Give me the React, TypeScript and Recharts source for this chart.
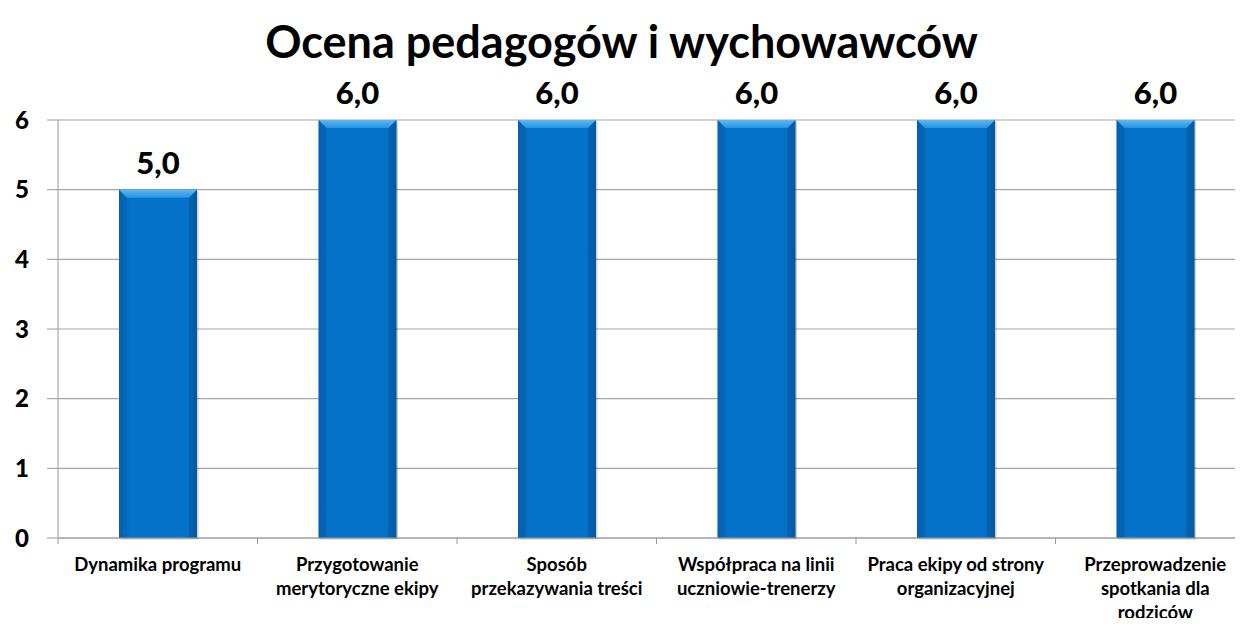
import { BarChart, Bar, XAxis, YAxis, CartesianGrid, LabelList } from 'recharts';

const categories = [
  'Dynamika programu',
  'Przygotowanie merytoryczne ekipy',
  'Sposób przekazywania treści',
  'Współpraca na linii uczniowie-trenerzy',
  'Praca ekipy od strony organizacyjnej',
  'Przeprowadzenie spotkania dla rodziców',
];
const categoryLines = [
  ['Dynamika programu'],
  ['Przygotowanie', 'merytoryczne ekipy'],
  ['Sposób', 'przekazywania treści'],
  ['Współpraca na linii', 'uczniowie-trenerzy'],
  ['Praca ekipy od strony', 'organizacyjnej'],
  ['Przeprowadzenie', 'spotkania dla', 'rodziców'],
];
const scores = [5.0, 6.0, 6.0, 6.0, 6.0, 6.0];
const yTicks = [0, 1, 2, 3, 4, 5, 6];

const data = categories.map((c, i) => ({ name: c, value: scores[i] }));

const FONT = 'Lato, "Open Sans", sans-serif';
const BAND = (1270 - 58 - 15) / categories.length;

const XTick = (props: any) => {
  const { x, y, payload, index } = props;
  const lines = categoryLines[payload.index ?? index] || [payload.value];
  const last = (payload.index ?? index) === categories.length - 1;
  return (
    <g>
      <line x1={x - BAND / 2} y1={y - 8} x2={x - BAND / 2} y2={y - 2} stroke="#9a9a9a" />
      {last && <line x1={x + BAND / 2} y1={y - 8} x2={x + BAND / 2} y2={y - 2} stroke="#9a9a9a" />}
      <text x={x} y={y + 25} textAnchor="middle" fontFamily={FONT} fontWeight={700} fontSize={18.5} fill="#000">
        {lines.map((l, i) => (
          <tspan key={i} x={x} dy={i === 0 ? 0 : 24}>
            {l}
          </tspan>
        ))}
      </text>
    </g>
  );
};

const BevelBar = (props: any) => {
  const { x, y, width, height } = props;
  if (!height) return null;
  const b = 8;
  return (
    <g>
      <rect x={x + 1.5} y={y + 1.5} width={width} height={height} fill="rgba(0,0,0,0.18)" />
      <rect x={x} y={y} width={width} height={height} fill="url(#barGrad)" />
      <polygon points={`${x},${y} ${x + width},${y} ${x + width - b},${y + b} ${x + b},${y + b}`} fill="url(#topGrad)" />
      <polygon points={`${x},${y} ${x + b},${y + b} ${x + b},${y + height} ${x},${y + height}`} fill="rgba(0,40,100,0.12)" />
      <polygon points={`${x + width},${y} ${x + width - b},${y + b} ${x + width - b},${y + height} ${x + width},${y + height}`} fill="rgba(0,40,100,0.18)" />
    </g>
  );
};

export default function App() {
  return (
    <div style={{ margin: -8, width: 1243, height: 626, overflow: 'hidden', background: '#fff', position: 'relative' }}>
      <div
        style={{
          position: 'absolute',
          top: 14,
          width: 1243,
          textAlign: 'center',
          fontFamily: FONT,
          fontWeight: 700,
          fontSize: 45,
          color: '#000',
        }}
      >
        Ocena pedagogów i wychowawców
      </div>
      <BarChart width={1270} height={626} data={data} margin={{ top: 120, right: 15, left: 0, bottom: 0 }}>
        <defs>
          <linearGradient id="barGrad" x1="0" y1="0" x2="1" y2="0">
            <stop offset="0%" stopColor="#0668b8" />
            <stop offset="15%" stopColor="#0573c9" />
            <stop offset="85%" stopColor="#0573c9" />
            <stop offset="100%" stopColor="#0565b2" />
          </linearGradient>
          <linearGradient id="topGrad" x1="0" y1="0" x2="0" y2="1">
            <stop offset="0%" stopColor="#5cb8f5" />
            <stop offset="100%" stopColor="#2893e0" />
          </linearGradient>
        </defs>
        <CartesianGrid vertical={false} stroke="#a6a6a6" strokeWidth={1.2} />
        <XAxis
          dataKey="name"
          height={88}
          tickLine={false}
          axisLine={{ stroke: '#9a9a9a', strokeWidth: 1.2 }}
          tick={<XTick />}
          interval={0}
        />
        <YAxis
          width={58}
          domain={[0, 6]}
          ticks={yTicks}
          tickSize={11}
          tickMargin={18}
          tickLine={{ stroke: '#9a9a9a' }}
          axisLine={{ stroke: '#9a9a9a' }}
          tick={{ fill: '#000', fontFamily: FONT, fontWeight: 900, fontSize: 24 }}
        />
        <Bar dataKey="value" barSize={78} shape={<BevelBar />} isAnimationActive={false}>
          <LabelList
            dataKey="value"
            position="top"
            offset={16}
            formatter={(v: any) => Number(v).toFixed(1).replace('.', ',')}
            style={{ fill: '#000', fontFamily: FONT, fontWeight: 900, fontSize: 31 }}
          />
        </Bar>
      </BarChart>
    </div>
  );
}
